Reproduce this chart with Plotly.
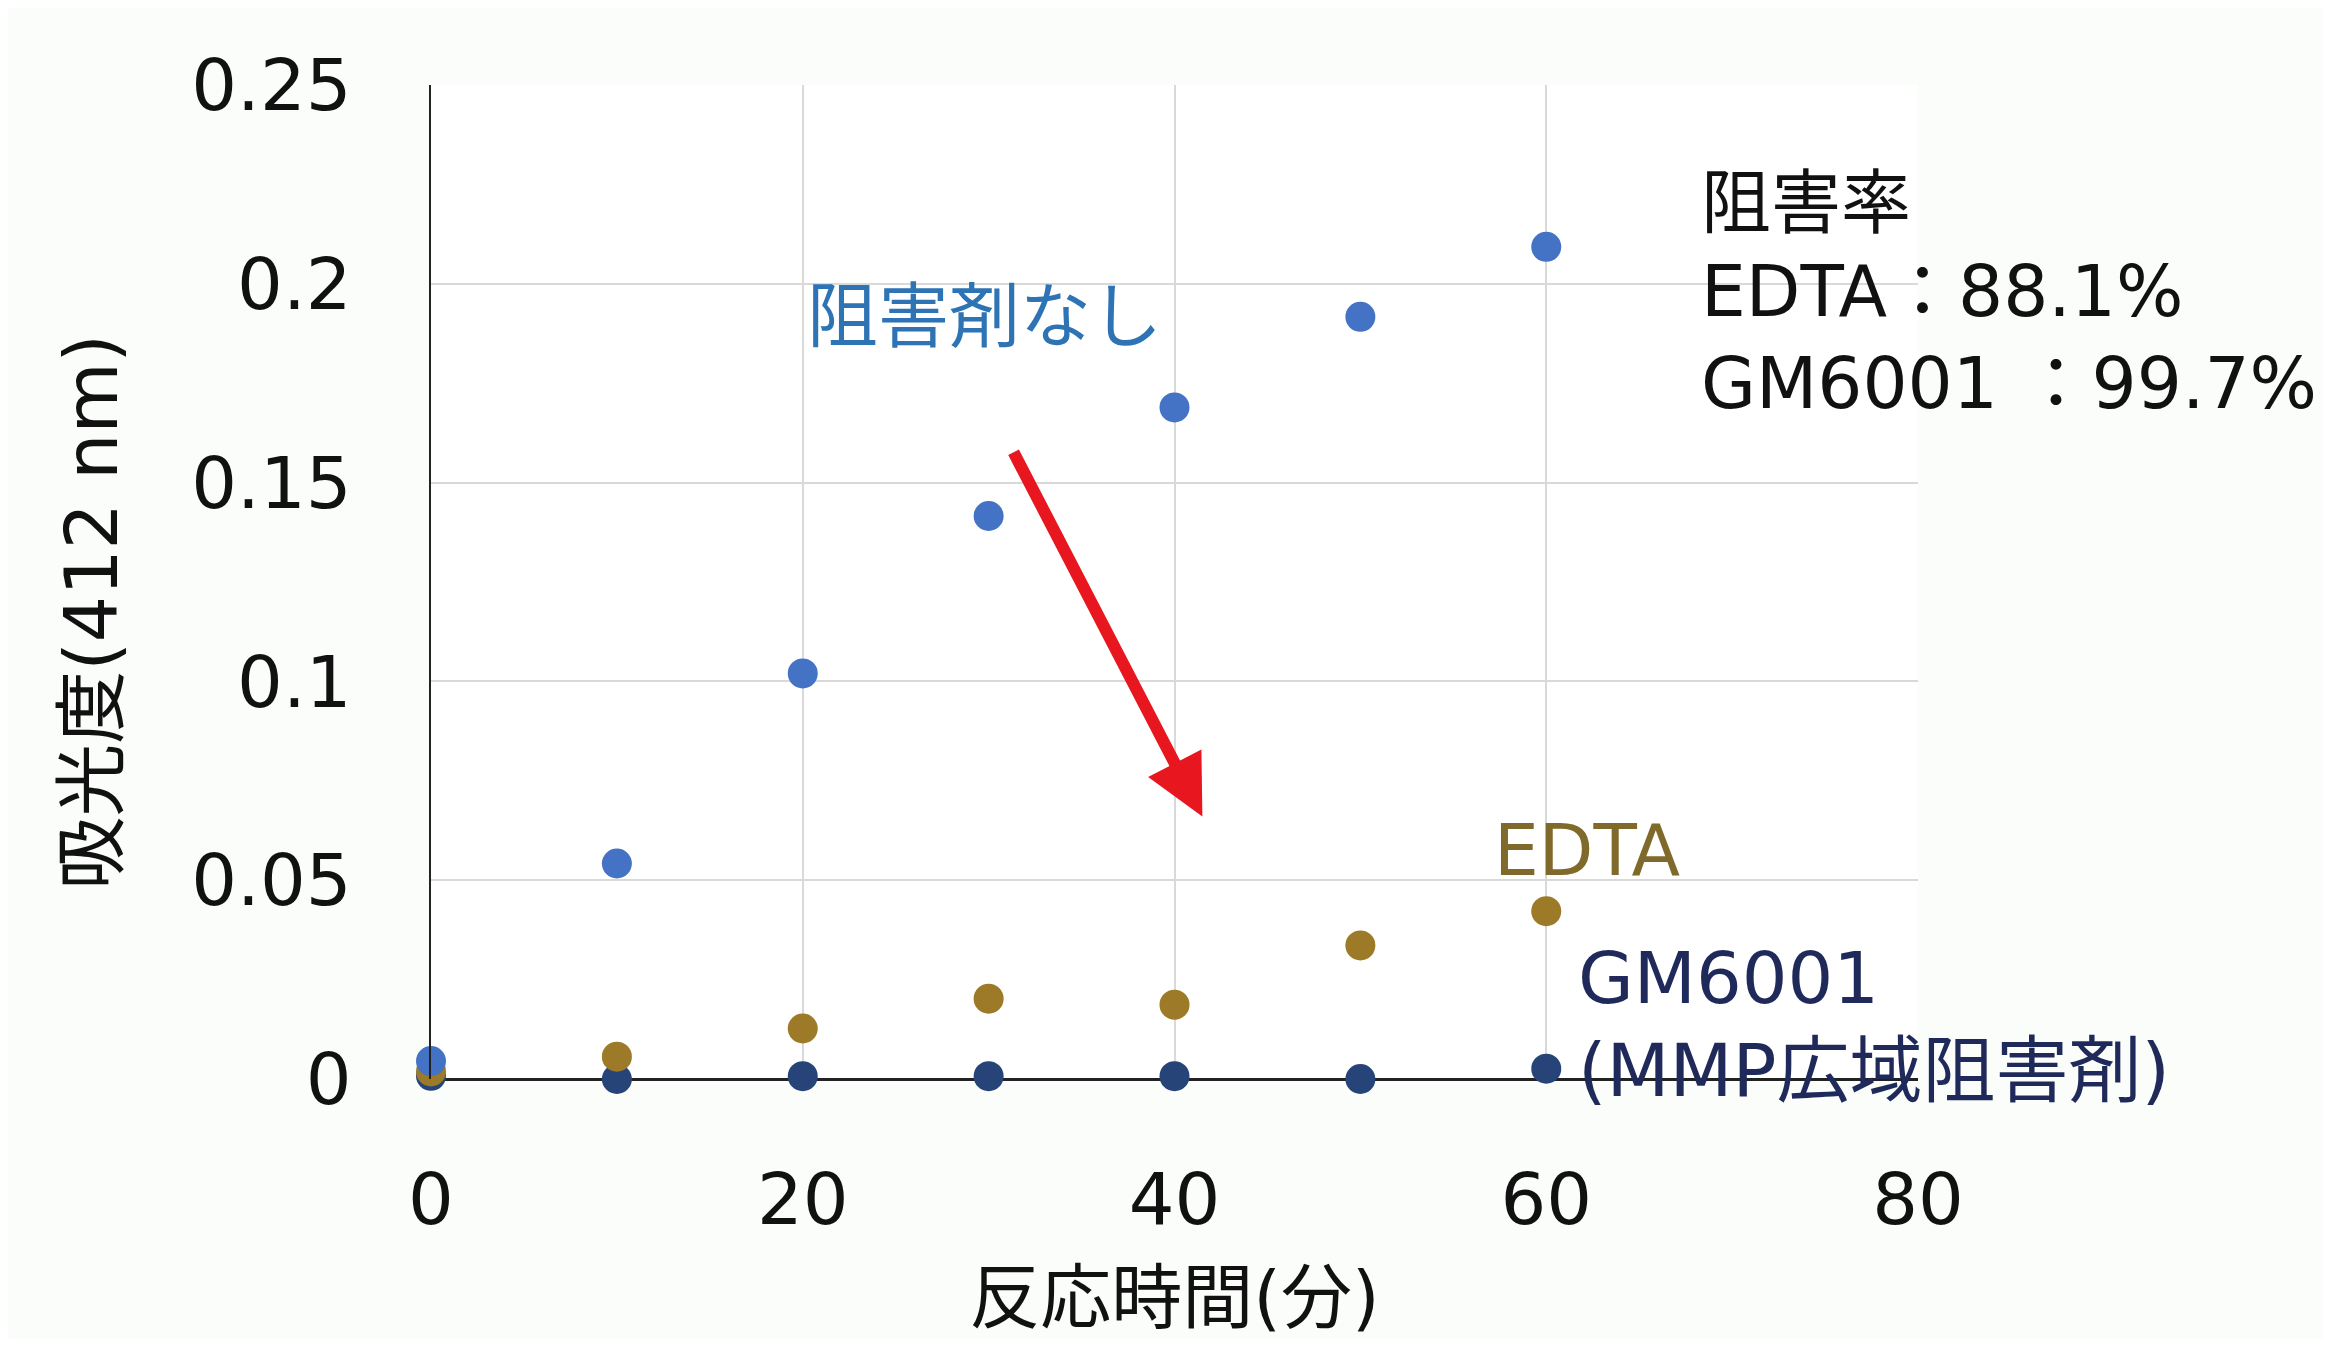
import plotly.graph_objects as go

# reaction time (min)
time_min = [0, 10, 20, 30, 40, 50, 60]

# absorbance at 412 nm
no_inhibitor = [0.0045, 0.0542, 0.1020, 0.1416, 0.1689, 0.1917, 0.2093]
edta = [0.0019, 0.0056, 0.0127, 0.0202, 0.0187, 0.0336, 0.0422]
gm6001 = [0.0008, 0.0000, 0.0007, 0.0007, 0.0007, 0.0000, 0.0026]

x_ticks = [0, 20, 40, 60, 80]
y_ticks = [0, 0.05, 0.1, 0.15, 0.2, 0.25]

# red arrow (tail -> head) in data units
arrow_tail = (31.3, 0.1580)
arrow_head = (41.5, 0.0660)

FONT = "DejaVu Sans, Noto Sans CJK JP"
BLUE = "#4472C4"
BROWN = "#9C7A28"
NAVY = "#264478"
INK = "#111111"

fig = go.Figure()

for name, ys, color in [
    ("GM6001", gm6001, NAVY),
    ("EDTA", edta, BROWN),
    ("阻害剤なし", no_inhibitor, BLUE),
]:
    fig.add_trace(go.Scatter(
        x=time_min, y=ys, mode="markers", name=name,
        marker=dict(size=30, color=color),
        cliponaxis=False,
    ))

# arrow
fig.add_annotation(
    x=arrow_head[0], y=arrow_head[1], ax=arrow_tail[0], ay=arrow_tail[1],
    xref="x", yref="y", axref="x", ayref="y",
    text="", showarrow=True, arrowhead=2, arrowsize=1.0,
    arrowwidth=12, arrowcolor="#E8161E",
)

labels = [
    # text, x, y, anchor, color, size
    ("阻害剤なし", 29.8, 0.1917, "center", "#2E74B5", 71),
    ("EDTA", 62.2, 0.0575, "center", "#806A2B", 71),
    ("GM6001", 61.6, 0.0254, "left", "#1F2A5A", 72),
    ("(MMP広域阻害剤)", 61.6, 0.0022, "left", "#1F2A5A", 73),
    ("阻害率", 68.2, 0.2201, "left", INK, 70),
    ("EDTA：88.1%", 68.2, 0.1981, "left", INK, 71),
    ("GM6001 ：99.7%", 68.2, 0.1749, "left", INK, 71),
]
for text, x, y, anchor, color, size in labels:
    fig.add_annotation(
        x=x, y=y, xref="x", yref="y", text=text, showarrow=False,
        xanchor=anchor, yanchor="middle",
        font=dict(family=FONT, size=size, color=color),
    )

# y axis title sits a little below the middle of the axis, as in the source
fig.add_annotation(
    x=-0.228, y=0.47, xref="paper", yref="paper",
    text="吸光度(412 nm)", textangle=-90, showarrow=False,
    xanchor="center", yanchor="middle",
    font=dict(family=FONT, size=73, color=INK),
)

fig.update_xaxes(
    range=[0, 80], tickvals=x_ticks,
    showgrid=True, gridcolor="#D9D9D9", gridwidth=2,
    showline=False, zeroline=False, automargin=False,
    ticks="", ticklabelstandoff=72,
    tickfont=dict(family=FONT, size=72, color=INK),
    title=dict(text="反応時間(分)", font=dict(family=FONT, size=71, color=INK), standoff=40),
)
fig.update_yaxes(
    range=[0, 0.25], tickvals=y_ticks,
    showgrid=True, gridcolor="#D9D9D9", gridwidth=2,
    showline=True, linecolor="#222222", linewidth=2,
    zeroline=True, zerolinecolor="#222222", zerolinewidth=3,
    automargin=False,
    ticks="", ticklabelstandoff=63,
    tickfont=dict(family=FONT, size=72, color=INK),
)

# the page body adds an 8px margin, so the figure is trimmed to sit inside it
fig.update_layout(
    width=2315, height=1331,
    margin=dict(l=423, r=405, t=77, b=260),
    paper_bgcolor="#FBFDFB", plot_bgcolor="white",
    showlegend=False,
    font=dict(family=FONT),
)

fig.write_html("out.html")
